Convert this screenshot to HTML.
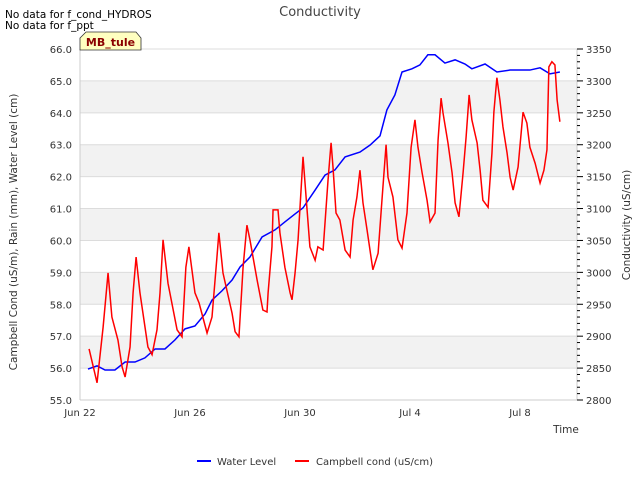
<!DOCTYPE html>
<html><head><meta charset="utf-8"><style>
body{margin:0;background:#fff;font-family:"DejaVu Sans","Liberation Sans",sans-serif;}
svg text{font-family:"DejaVu Sans","Liberation Sans",sans-serif;}
</style></head><body>
<svg id="chart" width="640" height="480">
<text x="5" y="18" font-size="10.5" fill="#000">No data for f_cond_HYDROS</text>
<text x="5" y="29" font-size="10.5" fill="#000">No data for f_ppt</text>
<text x="320" y="16" font-size="13" fill="#444" text-anchor="middle">Conductivity</text>
<g id="plot"></g>
<path d="M80,50 L80,38 L86,32 L136,32 L141,38 L141,50 Z" fill="#ffffc0" stroke="#333" stroke-width="0.8"/>
<text x="110.5" y="46" font-size="11" font-weight="bold" fill="#8b0000" text-anchor="middle">MB_tule</text>
<text transform="translate(17,232) rotate(-90)" font-size="10.5" fill="#333" text-anchor="middle">Campbell Cond (uS/m), Rain (mm), Water Level (cm)</text>
<text transform="translate(630,225) rotate(-90)" font-size="10.5" fill="#333" text-anchor="middle">Conductivity (uS/cm)</text>
<text x="566" y="433" font-size="10.5" fill="#333" text-anchor="middle">Time</text>
<g>
<line x1="197" y1="461" x2="211" y2="461" stroke="#0000ff" stroke-width="2"/>
<text x="217" y="465" font-size="10" fill="#333">Water Level</text>
<line x1="295" y1="461" x2="309" y2="461" stroke="#ff0000" stroke-width="2"/>
<text x="316" y="465" font-size="10" fill="#333">Campbell cond (uS/cm)</text>
</g>
</svg>
<script>
const leftTicks=[55,56,57,58,59,60,61,62,63,64,65,66];
const rightTicks=[2800,2850,2900,2950,3000,3050,3100,3150,3200,3250,3300,3350];
const xTickDays=[0,4,8,12,16];
const xTickLabels=["Jun 22","Jun 26","Jun 30","Jul 4","Jul 8"];
const waterDays=[0.29,0.62,0.91,1.27,1.64,2.0,2.36,2.73,3.09,3.45,3.82,4.18,4.55,4.8,5.16,5.53,5.82,6.18,6.62,7.09,7.45,7.82,8.11,8.55,8.91,9.27,9.64,10.18,10.55,10.91,11.16,11.45,11.71,12.07,12.36,12.65,12.91,13.27,13.64,14.0,14.25,14.73,15.16,15.64,16.36,16.73,17.09,17.45];
const waterLevel=[55.97,56.07,55.94,55.94,56.19,56.19,56.32,56.6,56.6,56.88,57.23,57.32,57.7,58.13,58.42,58.76,59.17,59.48,60.11,60.33,60.58,60.83,61.02,61.58,62.05,62.21,62.62,62.77,62.99,63.28,64.09,64.56,65.28,65.38,65.5,65.82,65.82,65.56,65.66,65.53,65.38,65.53,65.28,65.34,65.34,65.41,65.22,65.28];
const condDays=[0.33,0.62,0.84,1.02,1.16,1.38,1.53,1.64,1.82,1.93,2.04,2.18,2.47,2.62,2.8,2.91,3.02,3.2,3.53,3.71,3.85,3.96,4.18,4.33,4.62,4.8,4.98,5.05,5.2,5.53,5.64,5.78,5.93,6.07,6.18,6.44,6.65,6.8,6.84,6.98,7.02,7.2,7.27,7.45,7.64,7.71,7.82,7.93,8.11,8.25,8.36,8.55,8.65,8.84,9.02,9.13,9.2,9.31,9.45,9.64,9.82,9.93,10.07,10.18,10.29,10.44,10.65,10.84,10.98,11.13,11.2,11.38,11.56,11.71,11.89,12.04,12.18,12.29,12.44,12.62,12.73,12.91,13.02,13.13,13.2,13.38,13.53,13.64,13.78,13.93,14.04,14.15,14.25,14.44,14.55,14.65,14.84,14.98,15.05,15.16,15.27,15.38,15.53,15.64,15.75,15.93,16.11,16.25,16.36,16.55,16.73,16.87,16.98,17.05,17.16,17.27,17.35,17.45];
const condValues=[2880,2827,2914,2999,2930,2894,2852,2836,2883,2968,3024,2968,2883,2871,2910,2968,3051,2983,2910,2899,3008,3040,2968,2952,2905,2930,3024,3062,2999,2936,2907,2899,3008,3074,3051,2988,2941,2938,2968,3040,3098,3098,3062,3008,2968,2957,2999,3051,3181,3102,3040,3019,3040,3035,3145,3203,3165,3093,3082,3035,3024,3082,3118,3160,3109,3066,3004,3030,3113,3200,3149,3118,3051,3038,3093,3196,3239,3196,3156,3113,3079,3093,3207,3273,3250,3203,3156,3109,3087,3156,3212,3278,3239,3203,3160,3113,3102,3187,3251,3305,3270,3228,3187,3149,3129,3165,3251,3234,3196,3171,3140,3160,3192,3322,3330,3325,3270,3236];
const X0=80,X1=577,Y0=49,Y1=400,DAYPX=27.5;
const xs=d=>X0+d*DAYPX;
const yL=v=>Y1-(v-55)/11*(Y1-Y0);
const yR=v=>Y1-(v-2800)/550*(Y1-Y0);
const NS="http://www.w3.org/2000/svg";
const g=document.getElementById('plot');
function mk(tag,attrs,parent){const e=document.createElementNS(NS,tag);for(const k in attrs)e.setAttribute(k,attrs[k]);(parent||g).appendChild(e);return e;}
for(let v=56;v<65;v+=2){const r=mk('rect',{x:X0,y:yL(v+1),width:X1-X0,height:yL(v)-yL(v+1),fill:'#f2f2f2'});

}
leftTicks.forEach(v=>{const l=mk('line',{x1:X0,x2:X1,y1:yL(v),y2:yL(v),stroke:'#dcdcdc','stroke-width':1});


const t=mk('text',{x:X0-8,y:yL(v)+4,'font-size':10,fill:'#333','text-anchor':'end'});t.textContent=v.toFixed(1);

});
mk('line',{x1:X0,x2:X0,y1:Y0,y2:Y1,stroke:'#ccc'});
mk('line',{x1:X0,x2:X1,y1:Y1,y2:Y1,stroke:'#ccc'});
mk('line',{x1:X1,x2:X1,y1:Y0,y2:Y1,stroke:'#ccc'});
for(let v=2800;v<=3350;v+=10){const major=rightTicks.includes(v);
const tk=mk('line',{x1:X1,x2:X1+(major?6:3),y1:yR(v),y2:yR(v),stroke:'#000'});

}
rightTicks.forEach(v=>{const t=mk('text',{x:X1+9,y:yR(v)+4,'font-size':10,fill:'#333'});t.textContent=v;

});
xTickDays.forEach((d,i)=>{const t=mk('text',{x:xs(d),y:Y1+16,'font-size':10,fill:'#333','text-anchor':'middle'});t.textContent=xTickLabels[i];

});
const wl=mk('polyline',{points:waterDays.map((d,i)=>xs(d)+','+yL(waterLevel[i])).join(' '),fill:'none',stroke:'#0000ff','stroke-width':1.5});


const cl=mk('polyline',{points:condDays.map((d,i)=>xs(d)+','+yR(condValues[i])).join(' '),fill:'none',stroke:'#ff0000','stroke-width':1.5});


</script>
</body></html>
